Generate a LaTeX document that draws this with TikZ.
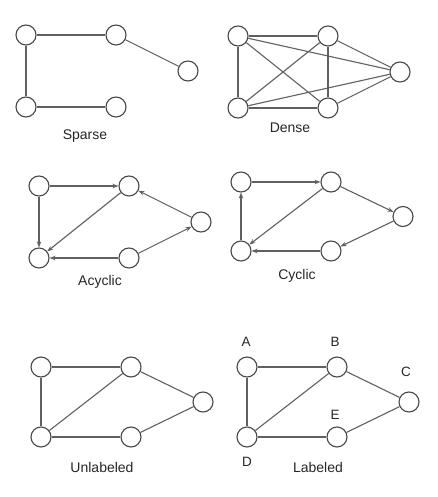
\documentclass[tikz,border=0pt]{standalone}
\usepackage{fontspec}
\setmainfont{Liberation Sans}
\usepackage{xcolor}
\usetikzlibrary{arrows.meta}
\definecolor{edgegray}{RGB}{96,96,96}
\definecolor{ringgray}{RGB}{72,72,72}
% five vertices: #1 prefix, (#2,#3) upper left vertex, #4 vertical gap
\newcommand{\fivegraph}[4]{
    \begin{scope}[shift={(#2,#3)}]
        \node[vert] (#1a) at (0, 0) {};
        \node[vert] (#1b) at (90, 0) {};
        \node[vert] (#1c) at (162, #4/2) {};
        \node[vert] (#1d) at (0, #4) {};
        \node[vert] (#1e) at (90, #4) {};
    \end{scope}
    }

\begin{document}
\begin{tikzpicture}[x=1pt, y=-1pt,
    vert/.style={circle, draw=ringgray, line width=1.1pt, fill=white, minimum size=20pt, inner sep=0pt},
    edge/.style={draw=edgegray, line width=1.1pt},
    arc/.style={edge, -{Stealth[length=6pt, width=4.5pt]}},
    caption/.style={font=\fontsize{14}{16}\selectfont, text=black!85},
    letter/.style={font=\fontsize{13.5}{16}\selectfont, text=black!85}]
    \useasboundingbox (0, 0) rectangle (437, 497);

    % sparse
    \fivegraph{s}{26}{35}{72}
    \draw[edge] (sa) -- (sb);
    \draw[edge] (sb) -- (sc);
    \draw[edge] (sa) -- (sd);
    \draw[edge] (sd) -- (se);
    \node[caption] (sparse) at (85, 136) {Sparse};

    % dense
    \fivegraph{n}{238}{36}{72}
    \foreach \u/\v in {a/b, a/c, a/d, a/e, b/c, b/d, b/e, c/d, c/e, d/e}
        \draw[edge] (n\u) -- (n\v);
    \node[caption] (dense) at (290, 128) {Dense};

    % acyclic
    \fivegraph{y}{39}{186}{72}
    \draw[arc] (ya) -- (yb);
    \draw[arc] (ya) -- (yd);
    \draw[arc] (yb) -- (yd);
    \draw[arc] (yc) -- (yb);
    \draw[arc] (ye) -- (yc);
    \draw[arc] (ye) -- (yd);
    \node[caption] (acyclic) at (100, 282) {Acyclic};

    % cyclic
    \fivegraph{c}{241}{182}{69}
    \draw[arc] (ca) -- (cb);
    \draw[arc] (cb) -- (cc);
    \draw[arc] (cc) -- (ce);
    \draw[arc] (ce) -- (cd);
    \draw[arc] (cd) -- (ca);
    \draw[arc] (cb) -- (cd);
    \node[caption] (cyclic) at (297, 276) {Cyclic};

    % unlabeled
    \fivegraph{u}{41}{367}{70}
    \foreach \u/\v in {a/b, a/d, d/b, b/c, d/e, e/c}
        \draw[edge] (u\u) -- (u\v);
    \node[caption] (unlabeled) at (102, 467) {Unlabeled};

    % labeled
    \fivegraph{l}{247}{367}{70}
    \foreach \u/\v in {a/b, a/d, d/b, b/c, d/e, e/c}
        \draw[edge] (l\u) -- (l\v);
    \node[letter] (tA) at (246, 342) {A};
    \node[letter] (tB) at (335, 342) {B};
    \node[letter] (tC) at (406, 372) {C};
    \node[letter] (tE) at (335, 415) {E};
    \node[letter] (tD) at (247, 462) {D};
    \node[caption] (labeled) at (318, 467) {Labeled};
\end{tikzpicture}
\end{document}
